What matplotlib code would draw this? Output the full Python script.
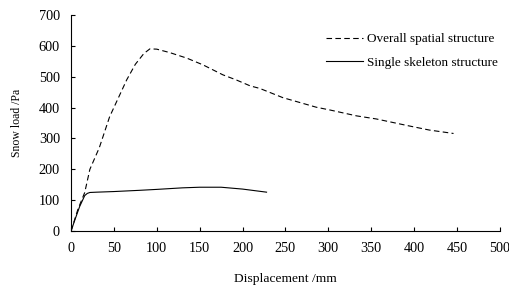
import matplotlib
matplotlib.use("Agg")
import matplotlib.pyplot as plt

overall_x = [0, 8, 16, 22, 33, 45, 55, 65, 75, 85, 92, 100, 115, 135, 154, 177, 193, 209, 220, 247, 286, 302, 333, 356, 395, 418, 446]
overall_y = [0, 70, 125, 200, 270, 370, 430, 490, 540, 575, 590, 589, 578, 560, 538, 506, 489, 470, 462, 432, 401, 392, 373, 363, 340, 327, 316]

single_x = [0, 5, 10, 16, 19, 22, 30, 50, 80, 100, 130, 150, 175, 200, 228]
single_y = [0, 40, 79, 115, 122, 125, 126, 128, 132, 135, 140, 142, 142, 136, 126]

xticks = [0, 50, 100, 150, 200, 250, 300, 350, 400, 450, 500]
yticks = [0, 100, 200, 300, 400, 500, 600, 700]

plt.rcParams['font.family'] = ['Liberation Serif', 'DejaVu Serif']

fig = plt.figure(figsize=(5.09, 2.86), dpi=100)
ax = fig.add_axes([0.1395, 0.192, 0.8425, 0.756])

ax.plot(overall_x, overall_y, color='black', linestyle=(0, (5, 3)), linewidth=0.8, label='Overall spatial structure')
ax.plot(single_x, single_y, color='black', linestyle='-', linewidth=0.8, label='Single skeleton structure')

ax.set_xlim(0, 500)
ax.set_ylim(0, 700)
ax.set_xticks(xticks)
ax.set_yticks(yticks)
ax.tick_params(direction='in', length=3, width=0.8, labelsize=10.3, pad=8)
for s in ['top', 'right']:
    ax.spines[s].set_visible(False)
for s in ['left', 'bottom']:
    ax.spines[s].set_linewidth(0.8)

ax.set_xlabel('Displacement /mm', fontsize=9.7, labelpad=13)
ax.set_ylabel('Snow load /Pa', fontsize=8.5, labelpad=11)

ax.legend(loc='upper left', bbox_to_anchor=(0.594, 0.916), frameon=False, fontsize=9.5,
          handlelength=2.85, handletextpad=0.3, labelspacing=0.85, borderaxespad=0,
          borderpad=0)

fig.savefig('out.png', dpi=100)
